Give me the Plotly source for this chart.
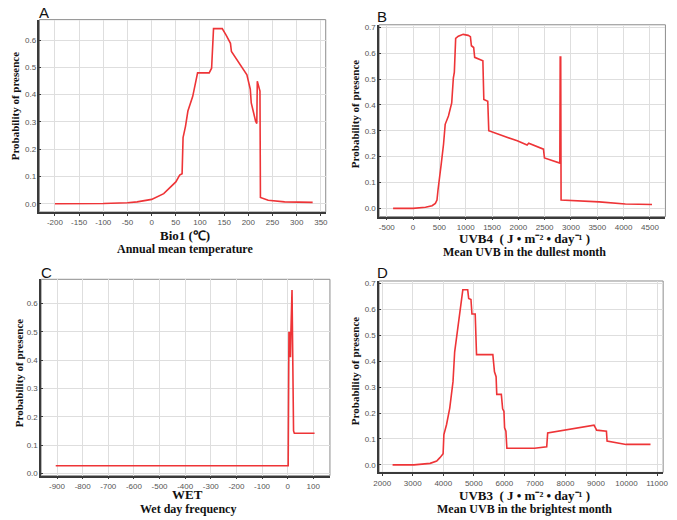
import plotly.graph_objects as go

W, H = 677, 520

# ---------------- data ----------------
a_x = [-200, -150, -100, -50, -30, 0, 25, 50, 58, 63, 65, 70, 75, 85, 95, 119, 124, 128, 146, 154,
       163, 165, 197, 204, 206, 215, 217.5, 218.5, 224, 225, 241, 275, 300, 333]
a_y = [0.0, 0.0, 0.001, 0.004, 0.007, 0.016, 0.037, 0.08, 0.105, 0.11, 0.243, 0.284, 0.34, 0.394, 0.48,
       0.48, 0.497, 0.642, 0.642, 0.618, 0.588, 0.558, 0.473, 0.42, 0.37, 0.303, 0.294, 0.449, 0.413,
       0.023, 0.013, 0.007, 0.005, 0.005]

b_x = [-380, 0, 236, 361, 423, 454, 473, 504, 535, 579, 610, 672, 734, 765, 784, 809, 859, 952, 1046,
       1089, 1108, 1151, 1170, 1326, 1344, 1419, 1438, 1979, 2166, 2197, 2477, 2496, 2788, 2795, 2805,
       2812, 3535, 4033, 4540]
b_y = [0.0, 0.0, 0.004, 0.01, 0.019, 0.032, 0.07, 0.134, 0.172, 0.249, 0.325, 0.357, 0.408, 0.504, 0.527,
       0.657, 0.666, 0.673, 0.669, 0.664, 0.629, 0.622, 0.584, 0.571, 0.421, 0.414, 0.30, 0.261, 0.245,
       0.252, 0.229, 0.195, 0.175, 0.585, 0.585, 0.032, 0.025, 0.017, 0.015]

c_x = [-905, 2, 5, 7, 9, 11, 13, 17, 23, 26, 105]
c_y = [0.027, 0.027, 0.50, 0.41, 0.50, 0.41, 0.51, 0.647, 0.15, 0.142, 0.142]

d_x = [2340, 3040, 3570, 3785, 3890, 3995, 4020, 4106, 4212, 4319, 4373, 4480, 4587, 4640, 4800, 4832,
       4907, 4939, 5046, 5089, 5623, 5677, 5730, 5752, 5901, 5944, 5987, 6008, 6051, 6083, 6990, 7387,
       7419, 8937, 9022, 9343, 9364, 9984, 10786]
d_y = [0.0, 0.0, 0.006, 0.015, 0.028, 0.043, 0.117, 0.155, 0.219, 0.321, 0.435, 0.537, 0.639, 0.675,
       0.675, 0.642, 0.638, 0.582, 0.582, 0.425, 0.425, 0.359, 0.34, 0.272, 0.272, 0.216, 0.206, 0.143,
       0.13, 0.064, 0.064, 0.070, 0.123, 0.153, 0.134, 0.13, 0.092, 0.079, 0.079]

a_ticks = [-200, -150, -100, -50, 0, 50, 100, 150, 200, 250, 300, 350]
b_ticks = [-500, 0, 500, 1000, 1500, 2000, 2500, 3000, 3500, 4000, 4500]
c_ticks = [-900, -800, -700, -600, -500, -400, -300, -200, -100, 0, 100]
d_ticks = [2000, 3000, 4000, 5000, 6000, 7000, 8000, 9000, 10000, 11000]
y_ticks6 = [0.0, 0.1, 0.2, 0.3, 0.4, 0.5, 0.6]
y_ticks7 = [0.0, 0.1, 0.2, 0.3, 0.4, 0.5, 0.6, 0.7]

panel_letters = ["A", "B", "C", "D"]
y_title = "Probability of presence"
x_titles = ["Bio1 (℃)", "UVB4  ( J • m⁻² • day⁻¹ )",
            "WET", "UVB3  ( J • m⁻² • day⁻¹ )"]
x_subtitles = ["Annual mean temperature", "Mean UVB in the dullest month",
               "Wet day frequency", "Mean UVB in the brightest month"]

# ---------------- layout geometry (pixels) ----------------
frames = [  # left, right, top, bottom
    (34.0, 325.0, 17.8, 212.0),
    (379.3, 670.3, 23.0, 216.7),
    (35.7, 329.3, 280.0, 478.3),
    (379.3, 668.0, 281.7, 475.0),
]
xranges = [[-232, 360], [-645, 4794], [-962, 165], [1900, 11200]]
yranges = [[-0.030, 0.675], [-0.032, 0.710], [-0.008, 0.685], [-0.029, 0.709]]
letter_pos = [(32, 0), (375, 4), (33.5, 263), (375.5, 263)]
title_pos = [(181.7, 236), (527, 239), (185, 497.5), (527, 498)]
sub_pos = [(181.7, 249.5), (527, 252.5), (185, 511.5), (527, 511.5)]
ytitle_pos = [(9.5, 105), (355.5, 113.5), (14, 375), (355.5, 373)]

def px(x):
    return x / W

def py(y):
    return 1 - y / H

RED = "rgb(238,52,55)"
fig = go.Figure()

series = [(a_x, a_y), (b_x, b_y), (c_x, c_y), (d_x, d_y)]
xt = [a_ticks, b_ticks, c_ticks, d_ticks]
yt = [y_ticks6, y_ticks7, y_ticks6, y_ticks7]

tickfont = dict(family="Liberation Sans, Arial, sans-serif", size=8, color="#555")
serif_b = "Liberation Serif, Times New Roman, serif"

annotations = []
shapes = []
for i in range(4):
    sx = "" if i == 0 else str(i + 1)
    xs, ys = series[i]
    fig.add_trace(go.Scatter(x=xs, y=ys, mode="lines", xaxis="x" + sx, yaxis="y" + sx,
                             line=dict(color=RED, width=1.6), showlegend=False,
                             hoverinfo="x+y"))
    l, r, t, b = frames[i]
    ax = dict(domain=[px(l), px(r)], range=xranges[i], anchor="y" + sx,
              tickmode="array", tickvals=xt[i], ticktext=[str(v) for v in xt[i]],
              showgrid=True, gridcolor="#dedede", gridwidth=1, zeroline=False,
              showline=True, linecolor="#3a3a3a", linewidth=1.5, mirror=False,
              ticks="outside", ticklen=2, tickcolor="#3a3a3a", tickfont=tickfont)
    ay = dict(domain=[py(b), py(t)], range=yranges[i], anchor="x" + sx,
              tickmode="array", tickvals=yt[i], ticktext=["%.1f" % v for v in yt[i]],
              showgrid=True, gridcolor="#dedede", gridwidth=1, zeroline=False,
              showline=True, linecolor="#3a3a3a", linewidth=1.5, mirror=False,
              ticks="inside", ticklen=2, tickcolor="#3a3a3a", tickfont=tickfont)
    fig.update_layout(**{"xaxis" + sx: ax, "yaxis" + sx: ay})
    # light grey frame on top/right
    shapes.append(dict(type="rect", xref="paper", yref="paper",
                       x0=px(l), x1=px(r), y0=py(b), y1=py(t),
                       line=dict(color="#8c8c8c", width=1), layer="below"))
    lx, ly = letter_pos[i]
    annotations.append(dict(text=panel_letters[i], x=px(lx), y=py(ly), xref="paper", yref="paper",
                            xanchor="left", yanchor="top", showarrow=False,
                            font=dict(family="Liberation Sans, Arial, sans-serif", size=15, color="#111")))
    tx, ty = title_pos[i]
    annotations.append(dict(text="<b>%s</b>" % x_titles[i], x=px(tx), y=py(ty), xref="paper", yref="paper",
                            xanchor="center", yanchor="middle", showarrow=False, borderpad=0,
                            font=dict(family=serif_b, size=13, color="#111")))
    sxp, syp = sub_pos[i]
    annotations.append(dict(text="<b>%s</b>" % x_subtitles[i], x=px(sxp), y=py(syp), xref="paper",
                            yref="paper", xanchor="center", yanchor="middle", showarrow=False, borderpad=0,
                            font=dict(family=serif_b, size=12, color="#111")))
    yx, yy = ytitle_pos[i]
    annotations.append(dict(text="<b>%s</b>" % y_title, x=px(yx), y=py(yy), xref="paper", yref="paper",
                            xanchor="center", yanchor="middle", showarrow=False, textangle=-90,
                            font=dict(family=serif_b, size=11, color="#111")))

fig.update_layout(width=W, height=H, autosize=False, margin=dict(l=0, r=0, t=0, b=0),
                  paper_bgcolor="white", plot_bgcolor="white",
                  annotations=annotations, shapes=shapes, showlegend=False)

fig.write_html("out.html", config={"displayModeBar": False},
               post_script="document.body.style.margin='0';document.body.style.overflow='hidden';")
